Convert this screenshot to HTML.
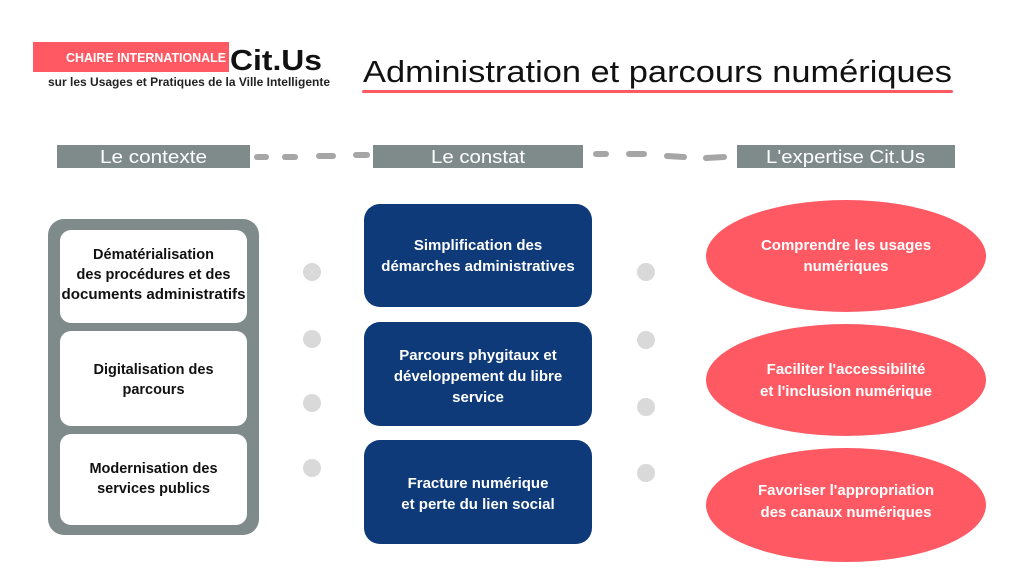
<!DOCTYPE html>
<html><head><meta charset="utf-8"><style>
html,body{margin:0;padding:0;background:#fff;}
svg{display:block;}
text{font-family:"Liberation Sans","DejaVu Sans",sans-serif;}
</style></head><body>
<svg width="1024" height="576" viewBox="0 0 1024 576" xmlns="http://www.w3.org/2000/svg">
<rect width="1024" height="576" fill="#fff"/>
<!-- logo -->
<rect x="33" y="42" width="196" height="30" fill="#ff5a64"/>
<text x="226" y="62" text-anchor="end" font-size="13" font-weight="bold" fill="#fff" textLength="160" lengthAdjust="spacingAndGlyphs">CHAIRE INTERNATIONALE</text>
<text x="230" y="70" font-size="29" font-weight="bold" fill="#111" textLength="92" lengthAdjust="spacingAndGlyphs">Cit.Us</text>
<text x="48" y="86" font-size="12" font-weight="bold" fill="#222" textLength="282" lengthAdjust="spacingAndGlyphs">sur les Usages et Pratiques de la Ville Intelligente</text>
<!-- title -->
<text x="363" y="82" font-size="31" fill="#111" textLength="589" lengthAdjust="spacingAndGlyphs">Administration et parcours numériques</text>
<rect x="362" y="90" width="591" height="3" rx="1.5" fill="#ff5a64"/>
<!-- headers -->
<rect x="57" y="145" width="193" height="23" fill="#7f8b8b"/>
<text x="100" y="163" font-size="18" fill="#fff" textLength="107" lengthAdjust="spacingAndGlyphs">Le contexte</text>
<rect x="373" y="145" width="210" height="23" fill="#7f8b8b"/>
<text x="431" y="163" font-size="18" fill="#fff" textLength="94" lengthAdjust="spacingAndGlyphs">Le constat</text>
<rect x="737" y="145" width="218" height="23" fill="#7f8b8b"/>
<text x="766" y="163" font-size="18" fill="#fff" textLength="159" lengthAdjust="spacingAndGlyphs">L'expertise Cit.Us</text>
<g stroke="#a6a6a6" stroke-width="6" stroke-linecap="round">
<line x1="257" y1="157" x2="266" y2="157"/>
<line x1="285" y1="157" x2="295" y2="157"/>
<line x1="319" y1="156" x2="333" y2="156"/>
<line x1="356" y1="155" x2="367" y2="155"/>
<line x1="596" y1="154" x2="606" y2="154"/>
<line x1="629" y1="154" x2="644" y2="154"/>
<line x1="667" y1="156" x2="684" y2="157"/>
<line x1="706" y1="158" x2="724" y2="157"/>
</g>
<!-- left -->
<rect x="48" y="219" width="211" height="316" rx="16" fill="#7f8b8b"/>
<rect x="60" y="230" width="187" height="93" rx="11" fill="#fff"/>
<rect x="60" y="331" width="187" height="95" rx="11" fill="#fff"/>
<rect x="60" y="434" width="187" height="91" rx="11" fill="#fff"/>
<g font-size="14.5" font-weight="bold" fill="#111" text-anchor="middle">
<text x="153.5" y="259">Dématérialisation</text>
<text x="153.5" y="279">des procédures et des</text>
<text x="153.5" y="299" textLength="184" lengthAdjust="spacingAndGlyphs">documents administratifs</text>
<text x="153.5" y="374">Digitalisation des</text>
<text x="153.5" y="394">parcours</text>
<text x="153.5" y="473">Modernisation des</text>
<text x="153.5" y="493">services publics</text>
</g>
<!-- dots -->
<g fill="#d9d9d9">
<circle cx="312" cy="272" r="9"/><circle cx="312" cy="339" r="9"/><circle cx="312" cy="403" r="9"/><circle cx="312" cy="468" r="9"/>
<circle cx="646" cy="272" r="9"/><circle cx="646" cy="340" r="9"/><circle cx="646" cy="407" r="9"/><circle cx="646" cy="473" r="9"/>
</g>
<!-- middle -->
<rect x="364" y="204" width="228" height="103" rx="16" fill="#0e3a7a"/>
<rect x="364" y="322" width="228" height="104" rx="16" fill="#0e3a7a"/>
<rect x="364" y="440" width="228" height="104" rx="16" fill="#0e3a7a"/>
<g font-size="15" font-weight="bold" fill="#fff" text-anchor="middle">
<text x="478" y="250">Simplification des</text>
<text x="478" y="271">démarches administratives</text>
<text x="478" y="360">Parcours phygitaux et</text>
<text x="478" y="381">développement du libre</text>
<text x="478" y="402">service</text>
<text x="478" y="488">Fracture numérique</text>
<text x="478" y="509">et perte du lien social</text>
</g>
<!-- right -->
<g fill="#ff5a64">
<ellipse cx="846" cy="256" rx="140" ry="56"/>
<ellipse cx="846" cy="380" rx="140" ry="56"/>
<ellipse cx="846" cy="505" rx="140" ry="57"/>
</g>
<g font-size="15" font-weight="bold" fill="#fff" text-anchor="middle">
<text x="846" y="250">Comprendre les usages</text>
<text x="846" y="271">numériques</text>
<text x="846" y="374">Faciliter l'accessibilité</text>
<text x="846" y="396">et l'inclusion numérique</text>
<text x="846" y="495">Favoriser l'appropriation</text>
<text x="846" y="517">des canaux numériques</text>
</g>
</svg>
</body></html>
